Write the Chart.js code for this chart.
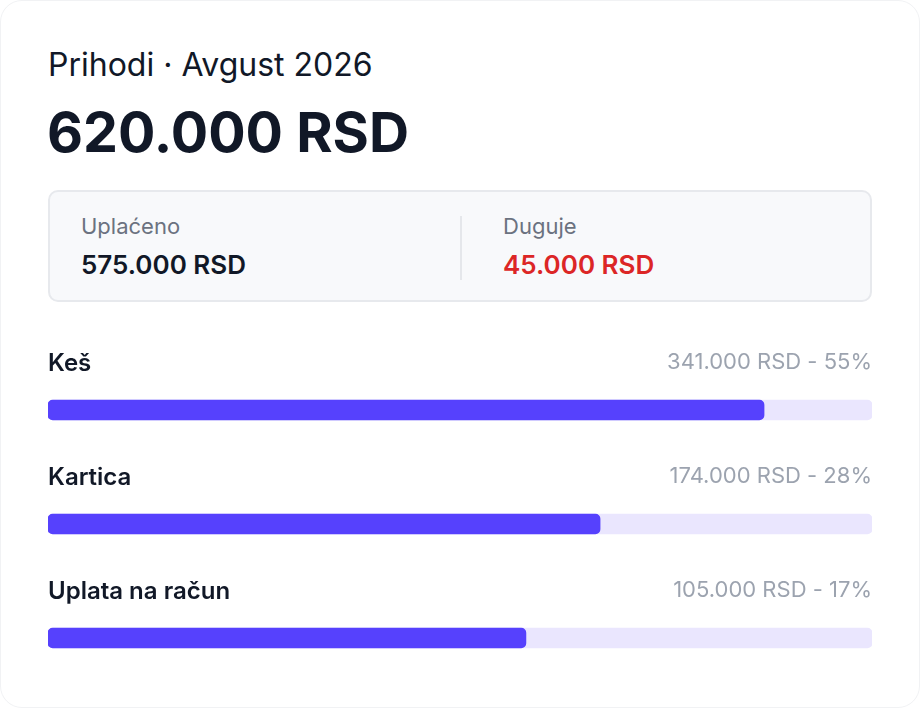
<!DOCTYPE html>
<html>
<head>
<meta charset="utf-8">
<script src="https://cdn.jsdelivr.net/npm/chart.js@4.4.1/dist/chart.umd.min.js"></script>
<style>
    html, body { margin: 0; padding: 0; background: #ffffff; }
    body { width: 920px; height: 708px; position: relative; font-family: Inter, "Noto Sans", sans-serif; overflow: hidden; }
    .card { position: absolute; left: 0; top: 0; width: 918px; height: 706px; border: 1px solid #f1f2f4; border-radius: 22px; }
    .txt { position: absolute; line-height: 1; white-space: nowrap; }
    .title { left: 48px; top: 49px; font-size: 32px; color: #111827; font-weight: 400; }
    .total { left: 47px; top: 104px; font-size: 55.5px; color: #111827; font-weight: 700; }
    .box { position: absolute; left: 48px; top: 190px; width: 820px; height: 108px; border: 2px solid #e7e9ed; border-radius: 10px; background: #f8f9fb; }
    .divider { position: absolute; left: 460px; top: 216px; width: 2px; height: 64px; background: #e5e7eb; }
    .lbl { font-size: 22px; color: #6b7280; top: 215px; }
    .val { font-size: 26px; color: #111827; font-weight: 600; top: 252px; }
    .red { color: #dc2626; }
    #wrap { position: absolute; left: 48px; top: 330px; width: 824px; height: 366px; }
</style>
</head>
<body>
<div class="card"></div>
<div class="txt title">Prihodi · Avgust 2026</div>
<div class="txt total">620.000 RSD</div>
<div class="box"></div>
<div class="divider"></div>
<div class="txt lbl" style="left:81px">Uplaćeno</div>
<div class="txt val" style="left:81px">575.000 RSD</div>
<div class="txt lbl" style="left:503px">Duguje</div>
<div class="txt val red" style="left:503px">45.000 RSD</div>
<div id="wrap"><canvas id="bars"></canvas></div>
<script>
// Podaci sa slike
const kategorije = ['Keš', 'Kartica', 'Uplata na račun'];
const iznosi = ['341.000', '174.000', '105.000'];
const procenti = [55, 28, 17];
// duzina trake procitana sa slike (% od pune sirine)
const popunjenost = [86.9, 67.0, 58.0];
const pozadina = [100, 100, 100];

// Crtanje naziva i iznosa iznad svake trake
const oznakePlugin = {
    id: 'oznake',
    afterDatasetsDraw(chart) {
        const ctx = chart.ctx;
        const yScale = chart.scales.y;
        const area = chart.chartArea;
        ctx.save();
        ctx.textBaseline = 'alphabetic';
        kategorije.forEach((naziv, i) => {
            const y = yScale.getPixelForValue(i) - 39;
            ctx.font = '600 24px Inter';
            ctx.fillStyle = '#111827';
            ctx.textAlign = 'left';
            ctx.fillText(naziv, area.left, y);
            ctx.font = '400 22px Inter';
            ctx.fillStyle = '#9ca3af';
            ctx.textAlign = 'right';
            ctx.fillText(`${iznosi[i]} RSD - ${procenti[i]}%`, area.right, y - 2);
        });
        ctx.restore();
    }
};

const ctx = document.getElementById('bars').getContext('2d');
new Chart(ctx, {
    type: 'bar',
    data: {
        labels: kategorije,
        datasets: [{
            label: 'Udeo',
            data: popunjenost,
            backgroundColor: '#5641fd',
            borderRadius: 5,
            borderSkipped: false,
            barThickness: 20,
            grouped: false
        }, {
            label: 'Pozadina',
            data: pozadina,
            backgroundColor: '#eae6fe',
            borderRadius: 5,
            borderSkipped: false,
            barThickness: 20,
            grouped: false
        }]
    },
    options: {
        indexAxis: 'y',
        responsive: true,
        maintainAspectRatio: false,
        animation: false,
        layout: { padding: { top: 23, bottom: 1, left: 0, right: 0 } },
        plugins: {
            legend: { display: false },
            tooltip: { enabled: false }
        },
        scales: {
            x: { display: false, min: 0, max: 100 },
            y: { display: false, offset: true }
        }
    },
    plugins: [oznakePlugin]
});
</script>
</body>
</html>
